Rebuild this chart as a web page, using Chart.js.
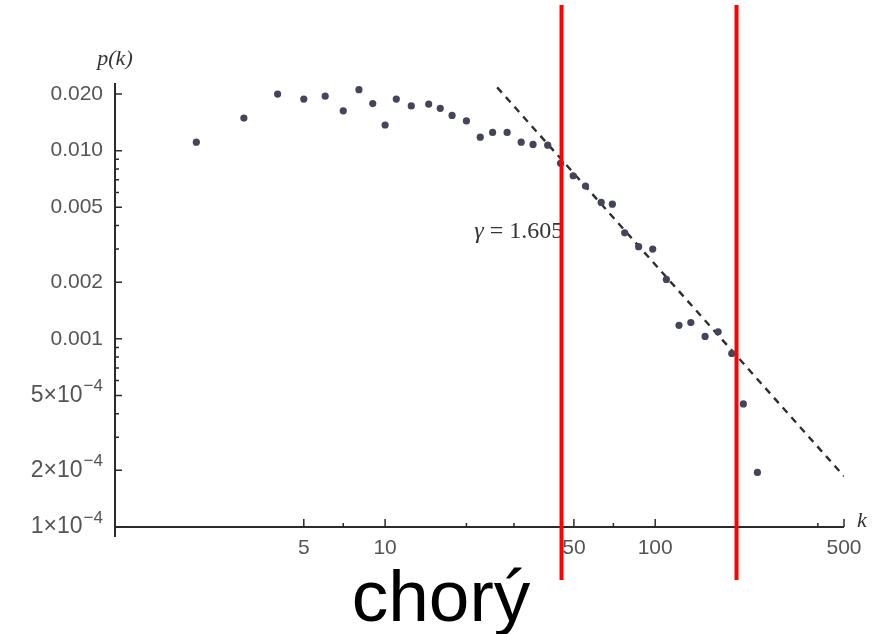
<!DOCTYPE html>
<html>
<head>
<meta charset="utf-8">
<script src="https://cdn.jsdelivr.net/npm/chart.js@4"></script>
<style>
  html, body { margin: 0; padding: 0; background: #ffffff; }
  #wrap { width: 885px; height: 634px; position: relative; }
</style>
</head>
<body>
<div id="wrap"><canvas id="c"></canvas></div>
<script>
// ---- data ----
const kValues = [2, 3, 4, 5, 6, 7, 8, 9, 10, 11, 12.5, 14.5, 16, 17.7, 20, 22.5, 25, 28.3, 31.9, 35.3, 40, 44.6, 49.7, 55.2, 63.1, 69.4, 77.1, 86.8, 97.9, 110, 122.5, 135.5, 153, 171, 192, 212, 239];
const pValues = [0.0111, 0.0149, 0.0200, 0.0188, 0.0195, 0.0163, 0.0211, 0.0178, 0.0137, 0.0188, 0.0173, 0.0177, 0.0168, 0.0154, 0.0144, 0.0118, 0.0125, 0.0125, 0.0111, 0.0108, 0.0107, 0.00857, 0.00736, 0.00649, 0.00531, 0.00520, 0.00366, 0.00309, 0.00300, 0.00207, 0.00118, 0.00122, 0.00103, 0.00109, 0.000836, 0.000451, 0.000195];
const fitK = [26, 500];
const fitP = [0.0217, 0.000186];
const gammaSymbol = "γ";
const gammaText = " = 1.605";
const markerK = [45, 200];
const bottomLabel = "chorý";

const xTickValues = [5, 10, 50, 100, 500];
const xTickLabels = ["5", "10", "50", "100", "500"];
const xMinorTicks = [7, 20, 30, 70, 200, 400];
const yTickValues = [0.02, 0.01, 0.005, 0.002, 0.001, 0.0005, 0.0002, 0.0001];
// label = [base, superscript]
const yTickLabels = [["0.020", ""], ["0.010", ""], ["0.005", ""], ["0.002", ""], ["0.001", ""], ["5×10", "−4"], ["2×10", "−4"], ["1×10", "−4"]];
const yMinorTicks = [0.009, 0.008, 0.007, 0.006, 0.004, 0.003, 0.0009, 0.0008, 0.0007, 0.0006, 0.0004, 0.0003];

const AXIS = '#2b2b2b';
const LABEL = '#555555';
const TICKFONT = '"Liberation Sans", Arial, sans-serif';

const decor = {
  id: 'decor',
  afterDraw(chart) {
    const ctx = chart.ctx;
    const xs = chart.scales.x, ys = chart.scales.y;
    const a = chart.chartArea;
    ctx.save();
    // axes lines
    ctx.strokeStyle = AXIS;
    ctx.lineWidth = 2;
    ctx.beginPath();
    ctx.moveTo(a.left, a.top);
    ctx.lineTo(a.left, a.bottom + 10);
    ctx.moveTo(a.left, a.bottom);
    ctx.lineTo(a.right, a.bottom);
    ctx.stroke();
    ctx.lineWidth = 1.5;
    ctx.beginPath();
    yTickValues.forEach(v => { const y = ys.getPixelForValue(v); ctx.moveTo(a.left, y); ctx.lineTo(a.left + 7, y); });
    yMinorTicks.forEach(v => { const y = ys.getPixelForValue(v); ctx.moveTo(a.left, y); ctx.lineTo(a.left + 4, y); });
    xTickValues.forEach(v => { const x = xs.getPixelForValue(v); ctx.moveTo(x, a.bottom); ctx.lineTo(x, a.bottom - 8); });
    xMinorTicks.forEach(v => { const x = xs.getPixelForValue(v); ctx.moveTo(x, a.bottom); ctx.lineTo(x, a.bottom - 4); });
    ctx.stroke();

    // y tick labels with superscripts
    ctx.fillStyle = LABEL;
    ctx.textBaseline = 'middle';
    ctx.textAlign = 'right';
    const right = a.left - 12;
    yTickValues.forEach((v, i) => {
      const y = ys.getPixelForValue(v);
      const [base, sup] = yTickLabels[i];
      let xr = right;
      if (sup) {
        ctx.font = '17px ' + TICKFONT;
        ctx.fillText(sup, xr, y - 9);
        xr -= ctx.measureText(sup).width + 1;
        ctx.font = '23px ' + TICKFONT;
      } else {
        ctx.font = '21px ' + TICKFONT;
      }
      ctx.fillText(base, xr, y);
    });

    // axis titles
    ctx.fillStyle = '#333';
    ctx.font = 'italic 22px "Liberation Serif", serif';
    ctx.textAlign = 'center';
    ctx.textBaseline = 'middle';
    ctx.fillText('p(k)', a.left, a.top - 24);
    ctx.textAlign = 'left';
    ctx.fillText('k', a.right + 13, a.bottom - 6);

    // gamma annotation
    const gx = xs.getPixelForValue(21.4), gy = ys.getPixelForValue(0.0037);
    ctx.fillStyle = '#333';
    ctx.textAlign = 'left';
    ctx.font = 'italic 24px "Liberation Serif", serif';
    ctx.fillText(gammaSymbol, gx, gy);
    const gw = ctx.measureText(gammaSymbol).width;
    ctx.font = '24px "Liberation Serif", serif';
    ctx.fillText(gammaText, gx + gw, gy);

    // red marker lines
    ctx.strokeStyle = '#ff0000';
    ctx.lineWidth = 4;
    ctx.beginPath();
    markerK.forEach(k => { const x = xs.getPixelForValue(k); ctx.moveTo(x, 5); ctx.lineTo(x, 580); });
    ctx.stroke();

    // bottom label
    ctx.fillStyle = '#000';
    ctx.font = '73px "Liberation Sans", Arial, sans-serif';
    ctx.textAlign = 'center';
    ctx.textBaseline = 'alphabetic';
    ctx.fillText(bottomLabel, 441, 621);
    ctx.restore();
  }
};

new Chart(document.getElementById('c'), {
  type: 'scatter',
  data: {
    datasets: [
      {
        label: 'p(k)',
        data: kValues.map((k, i) => ({ x: k, y: pValues[i] })),
        pointRadius: 3.6,
        pointBackgroundColor: '#45455a',
        pointBorderWidth: 0,
        showLine: false
      },
      {
        label: 'fit',
        data: fitK.map((k, i) => ({ x: k, y: fitP[i] })),
        showLine: true,
        pointRadius: 0,
        borderColor: '#2e2e2e',
        borderWidth: 2.4,
        borderDash: [7, 6]
      }
    ]
  },
  plugins: [decor],
  options: {
    responsive: true,
    maintainAspectRatio: false,
    animation: false,
    layout: { padding: { top: 83, right: 41, left: 0, bottom: 0 } },
    plugins: { legend: { display: false }, tooltip: { enabled: false } },
    scales: {
      x: {
        type: 'logarithmic',
        min: 1, max: 500,
        grid: { display: false, drawTicks: false },
        border: { display: false },
        afterBuildTicks: s => { s.ticks = xTickValues.map(v => ({ value: v })); },
        afterFit: s => { s.height = 107; },
        ticks: {
          autoSkip: false, maxRotation: 0, padding: 9,
          color: LABEL,
          font: { family: TICKFONT, size: 21 },
          callback: (v) => { const i = xTickValues.indexOf(v); return i >= 0 ? xTickLabels[i] : ''; }
        }
      },
      y: {
        type: 'logarithmic',
        min: 0.0001, max: 0.0229,
        grid: { display: false, drawTicks: false },
        border: { display: false },
        afterBuildTicks: s => { s.ticks = yTickValues.map(v => ({ value: v })); },
        afterFit: s => { s.width = 115; },
        ticks: { display: false }
      }
    }
  }
});
</script>
</body>
</html>
